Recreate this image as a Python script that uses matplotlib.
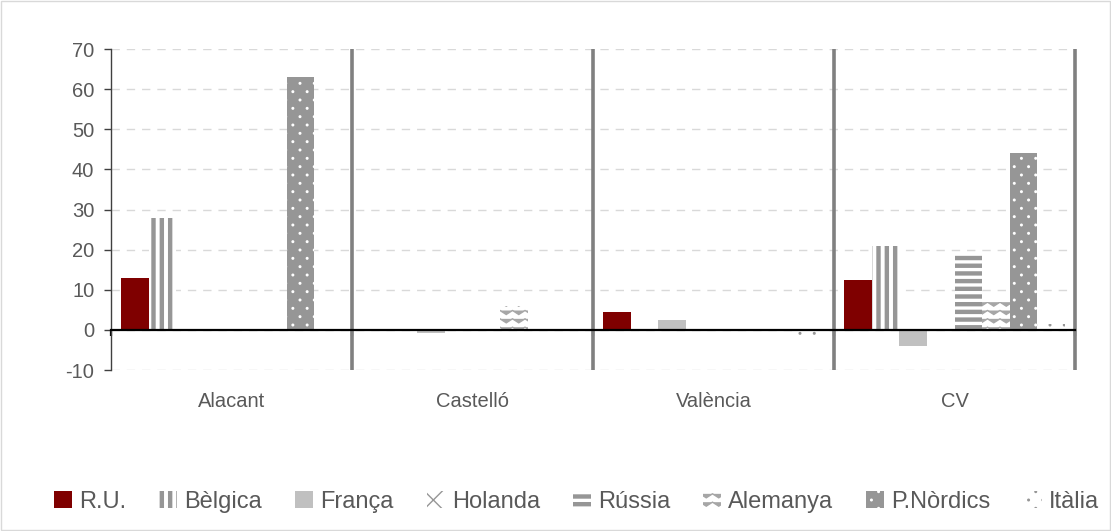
import numpy as np
import matplotlib
matplotlib.use("Agg")
import matplotlib.pyplot as plt
import matplotlib.hatch as mhatch
from matplotlib.path import Path
from matplotlib.patches import Rectangle

plt.rcParams['font.family'] = ['Liberation Sans', 'DejaVu Sans']
plt.rcParams['axes.unicode_minus'] = False

categories = ['Alacant', 'Castelló', 'València', 'CV']
series = ['R.U.', 'Bèlgica', 'França', 'Holanda', 'Rússia', 'Alemanya', 'P.Nòrdics', 'Itàlia']
values = {
    'R.U.':      [13, 0, 4.5, 12.5],
    'Bèlgica':   [28, 0, 0, 21],
    'França':    [0, -0.8, 2.5, -4],
    'Holanda':   [0, 0, 0, 0],
    'Rússia':    [0, 0, 0, 19],
    'Alemanya':  [0, 6, 0, 7],
    'P.Nòrdics': [63, 0, 0, 44],
    'Itàlia':    [0, 0, -2.5, 1.5],
}
yticks = list(range(-10, 71, 10))


# --- extra hatch patterns (Excel-like fills) ---
# B = thick vertical bands, H = thick horizontal bands, w = zigzag, d = small dots
class Bands(mhatch.HatchPatternBase):
    def __init__(self, hatch, density):
        self.lines = []
        if hatch.count('B'):
            for i in range(12):
                for s in (0.0, 0.01, 0.02, 0.03):
                    x0 = i / 12 + 0.02 + s
                    self.lines.append(((x0, 0.0), (x0, 1.0)))
        if hatch.count('H'):
            for i in range(13):
                for s in (0.0, 0.01, 0.02, 0.03):
                    y0 = i / 13 + 0.02 + s
                    self.lines.append(((0.0, y0), (1.0, y0)))
        self.num_vertices = 2 * len(self.lines)

    def set_vertices_and_codes(self, vertices, codes):
        for i, (a, b) in enumerate(self.lines):
            vertices[2 * i] = a
            vertices[2 * i + 1] = b
            codes[2 * i] = Path.MOVETO
            codes[2 * i + 1] = Path.LINETO


class Waves(mhatch.HatchPatternBase):
    rows, k, amp = 12, 8, 0.02

    def __init__(self, hatch, density):
        self.n = self.rows if hatch.count('w') else 0
        self.num_vertices = self.n * (2 * self.k + 1)

    def set_vertices_and_codes(self, vertices, codes):
        m = 2 * self.k + 1
        xs = np.linspace(0, 1, m)
        zig = self.amp * (-1.0) ** np.arange(m)
        for i in range(self.n):
            y0 = (i + 0.5) / self.rows
            vertices[i * m:(i + 1) * m, 0] = xs
            vertices[i * m:(i + 1) * m, 1] = y0 + zig
            codes[i * m] = Path.MOVETO
            codes[i * m + 1:(i + 1) * m] = Path.LINETO


circle = Path.unit_circle()


class Dots(mhatch.HatchPatternBase):
    def __init__(self, hatch, density):
        self.centers = []
        if hatch.count('d'):
            nx, ny = 7, 12
            for r in range(ny + 1):
                off = 0.0 if r % 2 == 0 else 0.5 / nx
                for c in range(nx + 1):
                    xx = c / nx + off
                    if xx <= 1.0:
                        self.centers.append((xx, r / ny))
        self.num_vertices = len(self.centers) * len(circle.vertices)

    def set_vertices_and_codes(self, vertices, codes):
        m = len(circle.vertices)
        for i, (cx, cy) in enumerate(self.centers):
            vertices[i * m:(i + 1) * m] = circle.vertices * 0.008 + (cx, cy)
            codes[i * m:(i + 1) * m] = circle.codes


mhatch._hatch_types.extend([Bands, Waves, Dots])
mhatch._validate_hatch_pattern = lambda hatch: None

# face colour, hatch colour, hatch
styles = {
    'R.U.':      ('#7f0000', '#7f0000', None),
    'Bèlgica':   ('white', '#969696', 'B'),
    'França':    ('#c0c0c0', '#c0c0c0', None),
    'Holanda':   ('white', '#969696', 'x'),
    'Rússia':    ('white', '#969696', 'H'),
    'Alemanya':  ('white', '#a6a6a6', 'w'),
    'P.Nòrdics': ('#969696', 'white', 'd'),
    'Itàlia':    ('white', '#969696', 'd'),
}

fig = plt.figure(figsize=(11.11, 5.31), dpi=100)
ax = fig.add_axes([0.0999, 0.3032, 0.8677, 0.6045])

x = np.arange(len(categories)) + 0.5
w = 0.1146
handles = []
for j, name in enumerate(series):
    fc, hc, hatch = styles[name]
    bars = ax.bar(x + (j - 3.5) * w, values[name], w, color=fc,
                  edgecolor=hc, linewidth=0, hatch=hatch, zorder=3, label=name)
    handles.append(bars)

ax.set_xlim(0, len(categories))
ax.set_ylim(-10, 70)
ax.set_yticks(yticks)
ax.yaxis.grid(True, color='#d9d9d9', linestyle=(0, (6, 5)), linewidth=1, zorder=0)
ax.tick_params(axis='y', length=5, width=1, color='#404040', direction='out',
               labelsize=14.5, labelcolor='#595959', pad=7)

for s in ['top', 'right']:
    ax.spines[s].set_visible(False)
ax.spines['left'].set_color('#404040')
ax.spines['left'].set_linewidth(1)
ax.spines['bottom'].set_position(('data', 0))
ax.spines['bottom'].set_color('black')
ax.spines['bottom'].set_linewidth(1.6)
ax.spines['bottom'].set_zorder(4)
ax.set_xticks(range(len(categories) + 1))
ax.set_xticklabels([])
ax.tick_params(axis='x', direction='out', length=4, width=1.6, color='black')

ax.vlines(range(1, len(categories) + 1), -10, 70, color='#808080', linewidth=2.6,
          zorder=2, clip_on=False)

for xi, c in zip(x, categories):
    ax.text(xi, -19.2, c, ha='center', va='baseline', fontsize=14.5, color='#595959')

leg = fig.legend(handles=handles, loc='center', bbox_to_anchor=(0.519, 0.055), ncol=8,
                 frameon=False, fontsize=17, handlelength=0.76, handleheight=0.76,
                 handletextpad=0.3, columnspacing=1.4)
for t in leg.get_texts():
    t.set_color('#595959')

fig.patches.append(Rectangle((0.0005, 0.001), 0.999, 0.998, transform=fig.transFigure,
                             fill=False, edgecolor='#d9d9d9', linewidth=1))

fig.savefig('out.png', dpi=100)
